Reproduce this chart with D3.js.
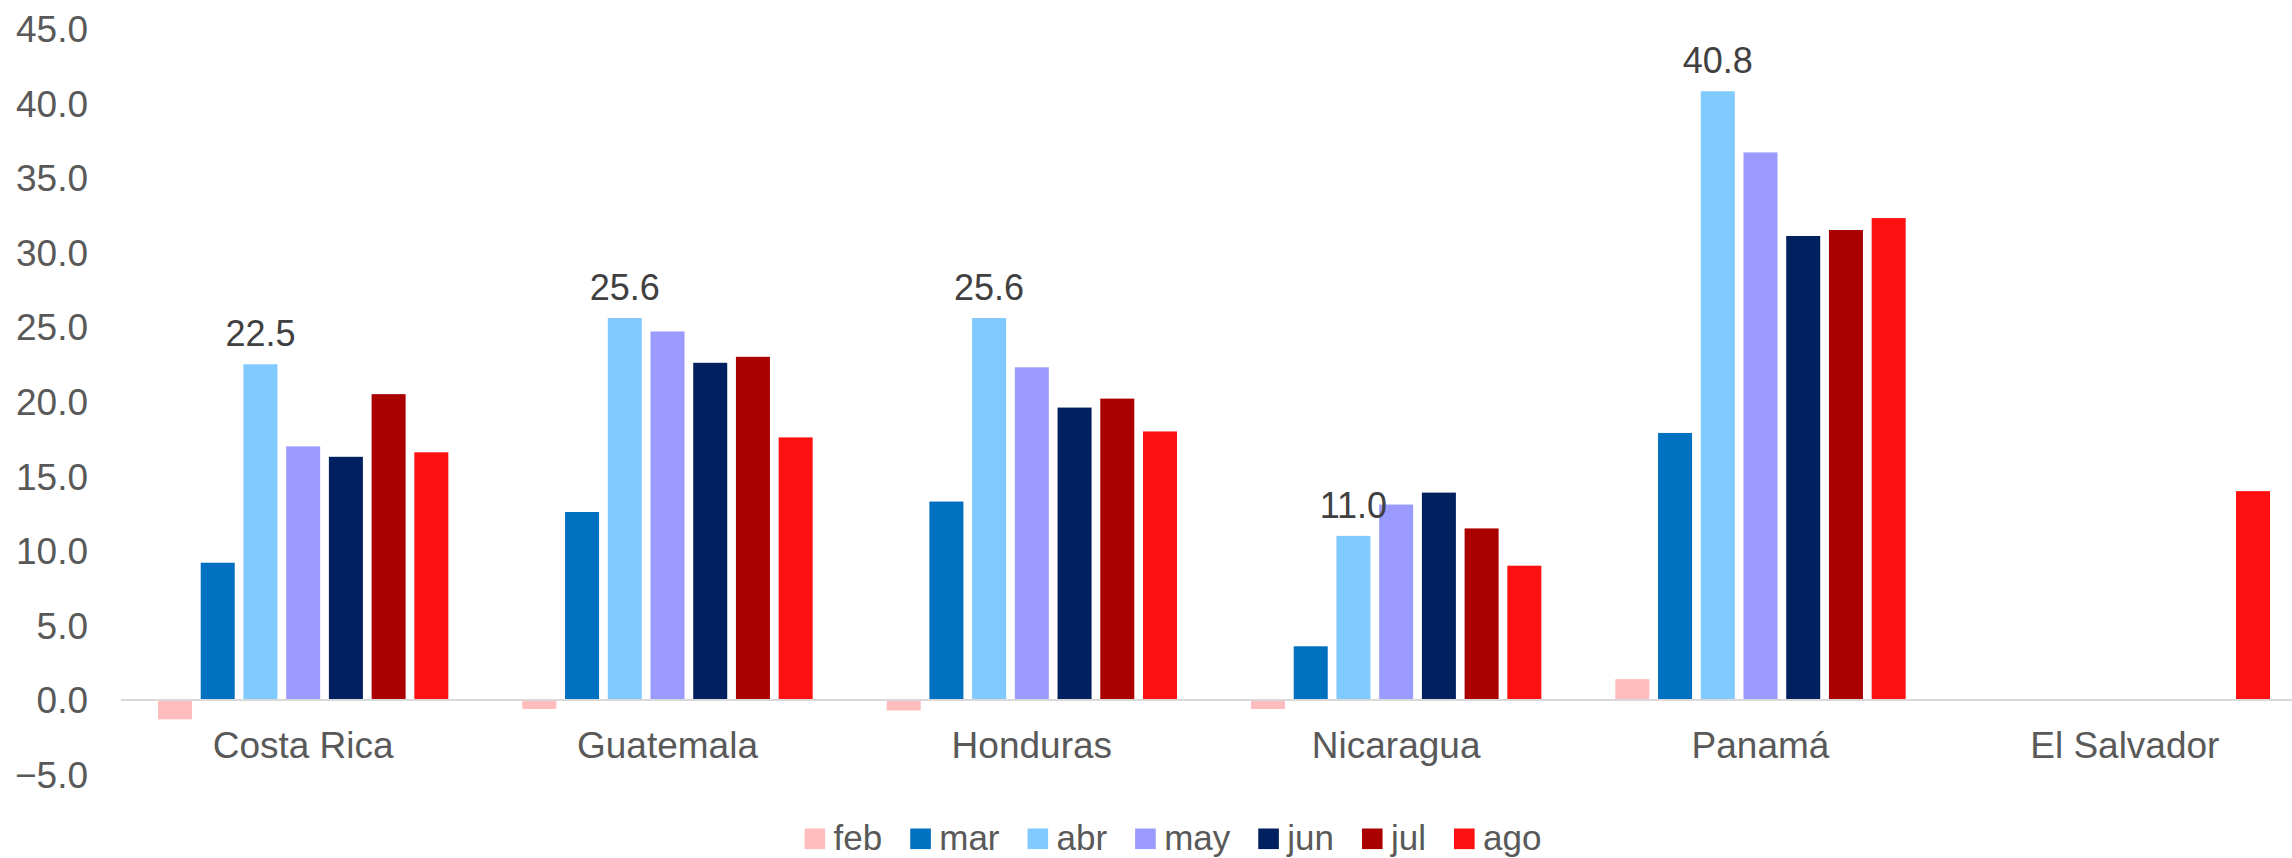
<!DOCTYPE html>
<html>
<head>
<meta charset="utf-8">
<script src="https://cdn.jsdelivr.net/npm/d3@7"></script>
<style>
  body { margin: 0; background: #fff; }
  text { font-family: "Liberation Sans", Arial, sans-serif; }
</style>
</head>
<body>
<div id="chart"></div>
<script>
// categories and months
var countries = ["Costa Rica", "Guatemala", "Honduras", "Nicaragua", "Panamá", "El Salvador"];
var months = ["feb", "mar", "abr", "may", "jun", "jul", "ago"];

// values per month, one per country (null = no data)
var feb = [-1.3, -0.6, -0.7, -0.6, 1.4, null];
var mar = [9.2, 12.6, 13.3, 3.6, 17.9, null];
var abr = [22.5, 25.6, 25.6, 11.0, 40.8, null];
var may = [17.0, 24.7, 22.3, 13.1, 36.7, null];
var jun = [16.3, 22.6, 19.6, 13.9, 31.1, null];
var jul = [20.5, 23.0, 20.2, 11.5, 31.5, null];
var ago = [16.6, 17.6, 18.0, 9.0, 32.3, 14.0];

var yTicks = [-5, 0, 5, 10, 15, 20, 25, 30, 35, 40, 45];
var colors = ["#FFBDBD", "#0070C0", "#80CAFF", "#9B9BFF", "#002060", "#AA0000", "#FF1010"];

(function() {

    var series = [feb, mar, abr, may, jun, jul, ago];

    var W = 2292, H = 858;
    var plotLeft = 121, plotRight = 2307, plotTop = 28.6, plotBottom = 774.6;

    var svg = d3.select("#chart").append("svg")
        .attr("width", W)
        .attr("height", H);

    var x0 = d3.scaleBand()
        .domain(countries)
        .range([plotLeft, plotRight])
        .padding(0);

    var x1 = d3.scaleBand()
        .domain(months)
        .range([37, x0.bandwidth() - 37])
        .paddingInner(0.204)
        .paddingOuter(0);

    var y = d3.scaleLinear()
        .domain([-5, 45])
        .range([plotBottom, plotTop]);

    var color = d3.scaleOrdinal().domain(months).range(colors);

    // y tick labels (no axis line, no gridlines)
    svg.append("g")
        .selectAll("text")
        .data(yTicks)
        .enter().append("text")
        .attr("x", 88)
        .attr("y", function(d) { return y(d); })
        .attr("dy", "0.36em")
        .attr("text-anchor", "end")
        .attr("fill", "#595959")
        .style("font-size", "37px")
        .text(function(d) { return d3.format(".1f")(d); });

    // flatten into rows for the bars
    var rows = [];
    series.forEach(function(vals, i) {
        vals.forEach(function(v, j) {
            if (v !== null) rows.push({ month: months[i], country: countries[j], value: v });
        });
    });

    // bars
    svg.append("g")
        .selectAll("rect")
        .data(rows)
        .enter().append("rect")
        .attr("x", function(d) { return x0(d.country) + x1(d.month); })
        .attr("y", function(d) { return y(Math.max(0, d.value)); })
        .attr("width", x1.bandwidth())
        .attr("height", function(d) { return Math.abs(y(d.value) - y(0)); })
        .attr("fill", function(d) { return color(d.month); });

    // zero line
    svg.append("line")
        .attr("x1", plotLeft)
        .attr("x2", plotRight)
        .attr("y1", y(0))
        .attr("y2", y(0))
        .attr("stroke", "#D9D9D9")
        .attr("stroke-width", 2);

    // category labels
    svg.append("g")
        .selectAll("text")
        .data(countries)
        .enter().append("text")
        .attr("x", function(d) { return x0(d) + x0.bandwidth() / 2; })
        .attr("y", 758)
        .attr("text-anchor", "middle")
        .attr("fill", "#595959")
        .style("font-size", "37px")
        .text(function(d) { return d; });

    // data labels on the abr series
    svg.append("g")
        .selectAll("text")
        .data(abr.map(function(v, j) { return { country: countries[j], value: v }; })
            .filter(function(d) { return d.value !== null; }))
        .enter().append("text")
        .attr("x", function(d) { return x0(d.country) + x1("abr") + x1.bandwidth() / 2; })
        .attr("y", function(d) { return y(d.value) - 18; })
        .attr("text-anchor", "middle")
        .attr("fill", "#404040")
        .style("font-size", "36px")
        .text(function(d) { return d3.format(".1f")(d.value); });

    // legend, centred
    var legend = svg.append("g");
    var items = legend.selectAll("g")
        .data(months)
        .enter().append("g");
    items.append("rect")
        .attr("width", 20.6)
        .attr("height", 20.6)
        .attr("y", 828.5)
        .attr("fill", function(d) { return color(d); });
    items.append("text")
        .attr("x", 29)
        .attr("y", 850)
        .attr("fill", "#595959")
        .style("font-size", "35px")
        .text(function(d) { return d; });

    var pos = 0;
    items.each(function() {
        var g = d3.select(this);
        g.attr("transform", "translate(" + pos + ",0)");
        pos += 29 + g.select("text").node().getComputedTextLength() + 28;
    });
    var totalW = pos - 28;
    legend.attr("transform", "translate(" + (1173 - totalW / 2) + ",0)");

})();
</script>
</body>
</html>
